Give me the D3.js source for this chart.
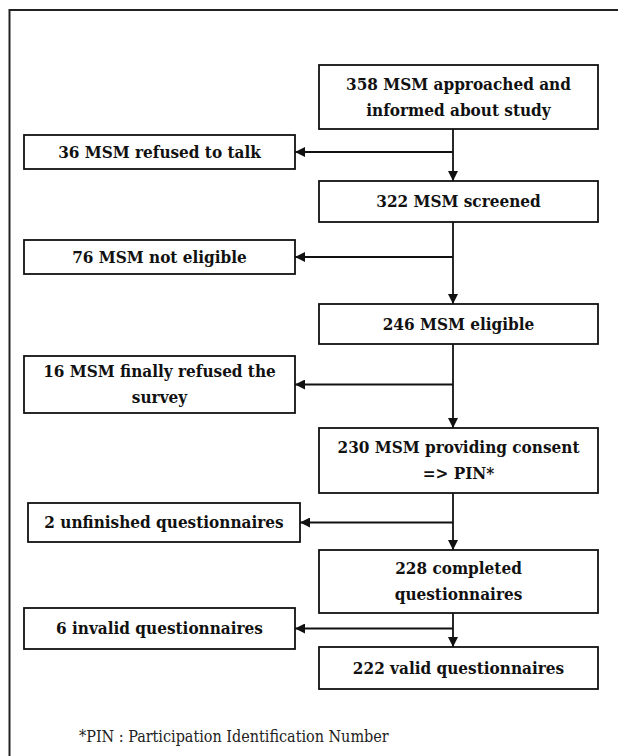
<!DOCTYPE html>
<html>
<head>
<meta charset="utf-8">
<script src="https://cdn.jsdelivr.net/npm/d3@7"></script>
<style>
  body { margin: 0; background: #fff; }
  svg { display: block; }
</style>
</head>
<body>
<div id="chart"></div>
<script>
// Flow of participants through the study
const mainCounts = [358, 322, 246, 230, 228, 222];
const mainLabels = [
    ["358 MSM approached and", "informed about study"],
    ["322 MSM screened"],
    ["246 MSM eligible"],
    ["230 MSM providing consent", "=> PIN*"],
    ["228 completed", "questionnaires"],
    ["222 valid questionnaires"]
];
const excludedCounts = [36, 76, 16, 2, 6];
const excludedLabels = [
    ["36 MSM refused to talk"],
    ["76 MSM not eligible"],
    ["16 MSM finally refused the", "survey"],
    ["2 unfinished questionnaires"],
    ["6 invalid questionnaires"]
];
const footnote = "*PIN : Participation Identification Number";

// box geometry (pixels)
const mainRows = [[65, 129], [181, 222], [304, 344], [428, 493], [550, 613], [647, 689]];
const sideRows = [[135, 169], [240, 274], [356, 413], [503, 542], [608, 649]];
const sideCols = [[24, 295], [24, 295], [24, 295], [28, 300], [24, 295]];

const width = 618, height = 756;
const svg = d3.select("#chart").append("svg")
    .attr("width", width)
    .attr("height", height);

const x = d3.scaleLinear().domain([0, 1]).range([319, 598]);
const spineX = 453;

svg.append("defs").append("marker")
    .attr("id", "head")
    .attr("viewBox", "0 0 10 10")
    .attr("refX", 10).attr("refY", 5)
    .attr("markerWidth", 10).attr("markerHeight", 10)
    .attr("markerUnits", "userSpaceOnUse")
    .attr("orient", "auto")
    .append("path")
    .attr("d", "M0,0L10,5L0,10Z")
    .attr("fill", "#111");

// outer frame
svg.append("path")
    .attr("d", `M9.5,${height}V10H${width}`)
    .attr("fill", "none")
    .attr("stroke", "#222")
    .attr("stroke-width", 2);

const font = "'DejaVu Serif Condensed', 'DejaVu Serif', serif";

function drawBox(g, x0, x1, y0, y1, lines) {
    g.append("rect")
        .attr("x", x0).attr("y", y0)
        .attr("width", x1 - x0).attr("height", y1 - y0)
        .attr("fill", "#fff")
        .attr("stroke", "#111")
        .attr("stroke-width", 1.8);
    const lh = 26;
    const cy = (y0 + y1) / 2 - (lines.length - 1) * lh / 2;
    g.selectAll("text.l").data(lines).enter().append("text")
        .attr("x", (x0 + x1) / 2)
        .attr("y", (d, i) => cy + i * lh)
        .attr("dy", "0.35em")
        .attr("text-anchor", "middle")
        .attr("font-family", font)
        .attr("font-weight", "bold")
        .attr("font-size", 17)
        .attr("fill", "#111")
        .text(d => d);
}

// connectors
const links = svg.append("g").attr("stroke", "#111").attr("stroke-width", 1.8).attr("fill", "none");
mainRows.slice(1).forEach((r, i) => {
    links.append("line")
        .attr("x1", spineX).attr("y1", mainRows[i][1])
        .attr("x2", spineX).attr("y2", r[0])
        .attr("marker-end", "url(#head)");
    const by = (sideRows[i][0] + sideRows[i][1]) / 2;
    links.append("line")
        .attr("x1", spineX).attr("y1", by)
        .attr("x2", sideCols[i][1]).attr("y2", by)
        .attr("marker-end", "url(#head)");
});

const boxes = svg.append("g");
mainLabels.forEach((lines, i) => {
    drawBox(boxes.append("g"), x(0), x(1), mainRows[i][0], mainRows[i][1], lines);
});
excludedLabels.forEach((lines, i) => {
    drawBox(boxes.append("g"), sideCols[i][0], sideCols[i][1], sideRows[i][0], sideRows[i][1], lines);
});

svg.append("text")
    .attr("x", 79).attr("y", 742)
    .attr("font-family", font)
    .attr("font-size", 16)
    .attr("fill", "#222")
    .text(footnote);
</script>
</body>
</html>
